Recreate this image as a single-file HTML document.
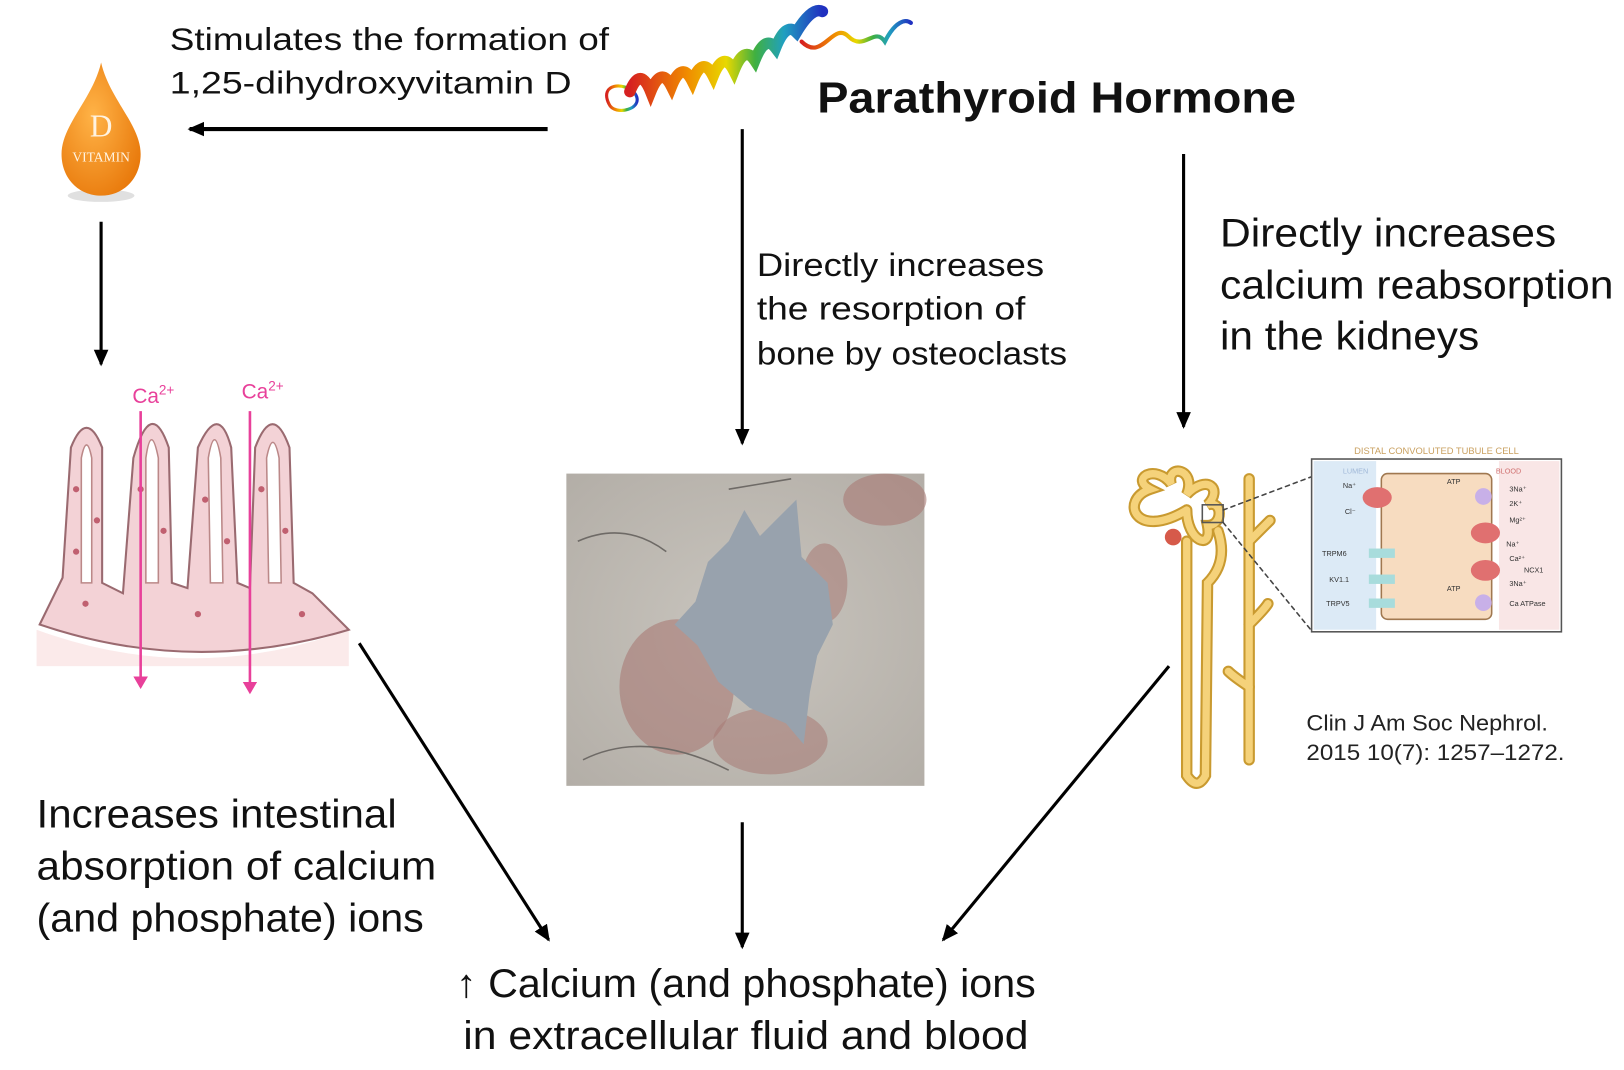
<!DOCTYPE html>
<html><head><meta charset="utf-8"><style>
html,body{margin:0;padding:0;background:#fff;}
svg{display:block;font-family:"Liberation Sans",sans-serif;}
</style></head><body>
<svg width="1624" height="1070" viewBox="0 0 1560 1028" xmlns="http://www.w3.org/2000/svg">
<defs>
<marker id="ahp" markerWidth="12" markerHeight="14" refX="10" refY="7" orient="auto" markerUnits="userSpaceOnUse"><path d="M0,0 L12,7 L0,14 z" fill="#e8409a"/></marker>
<marker id="ahb" markerWidth="18" markerHeight="18" refX="14" refY="9" orient="auto" markerUnits="userSpaceOnUse"><path d="M0,2 L16,9 L0,16 z" fill="#000"/></marker>
<radialGradient id="drop" cx="0.4" cy="0.4" r="0.7"><stop offset="0" stop-color="#ffb347"/><stop offset="1" stop-color="#e8780a"/></radialGradient>
<linearGradient id="rib" x1="0" x2="1"><stop offset="0" stop-color="#d62020"/><stop offset="0.3" stop-color="#f08c00"/><stop offset="0.5" stop-color="#e8d800"/><stop offset="0.65" stop-color="#40b040"/><stop offset="0.8" stop-color="#20a0c0"/><stop offset="1" stop-color="#2030c0"/></linearGradient>
<radialGradient id="bone" cx="0.5" cy="0.5" r="0.7"><stop offset="0" stop-color="#c9c5be"/><stop offset="1" stop-color="#b3aea7"/></radialGradient>
</defs>

<g font-size="30" fill="#111">
<text x="163" y="48" textLength="422" lengthAdjust="spacingAndGlyphs">Stimulates the formation of</text>
<text x="163" y="90" textLength="386" lengthAdjust="spacingAndGlyphs">1,25-dihydroxyvitamin D</text>
</g>

<g fill="none" stroke="url(#rib)" stroke-linecap="round">
<path d="M585,100 C575,80 600,78 610,90 C620,105 590,112 585,100" stroke-width="3"/>
<path d="M605,88 q10,-25 20,0 q10,-25 20,-5 q10,-25 20,-5 q10,-25 20,-5 q10,-25 20,-5 q10,-25 20,-10 q10,-25 20,-12 q10,-25 20,-15 q15,-25 25,-20" stroke-width="11"/>
<path d="M770,40 C790,60 800,20 815,35 C830,50 840,25 850,40 C860,20 870,18 875,22" stroke-width="4"/>
</g>
<text x="785" y="108" font-size="42" font-weight="bold" fill="#111" textLength="460" lengthAdjust="spacingAndGlyphs">Parathyroid Hormone</text>

<g>
<ellipse cx="97" cy="188" rx="32" ry="6" fill="#ccc" opacity="0.6"/>
<path d="M97,60 C105,95 135,120 135,148 C135,172 118,188 97,188 C76,188 59,172 59,148 C59,120 89,95 97,60 z" fill="url(#drop)"/>
<text x="97" y="131" font-family="Liberation Serif,serif" font-size="30" fill="#fff3e0" text-anchor="middle">D</text>
<text x="97" y="155" font-family="Liberation Serif,serif" font-size="13" fill="#fff3e0" text-anchor="middle">VITAMIN</text>
</g>

<g stroke="#000" stroke-width="4">
<line x1="526" y1="124" x2="182" y2="124" marker-end="url(#ahb)"/>
<line x1="97" y1="213" x2="97" y2="350" stroke-width="3" marker-end="url(#ahb)"/>
<line x1="713" y1="124" x2="713" y2="426" stroke-width="3" marker-end="url(#ahb)"/>
<line x1="1137" y1="148" x2="1137" y2="410" stroke-width="3" marker-end="url(#ahb)"/>
<line x1="345" y1="618" x2="527" y2="903" stroke-width="3" marker-end="url(#ahb)"/>
<line x1="713" y1="790" x2="713" y2="910" stroke-width="3" marker-end="url(#ahb)"/>
<line x1="1123" y1="640" x2="906" y2="903" stroke-width="3" marker-end="url(#ahb)"/>
</g>

<g>
<path d="M35,605 Q185,660 335,605 L335,640 L35,640 z" fill="#fbeaea"/>
<g fill="#f3d2d6" stroke="#9a6a70" stroke-width="2">
<path d="M38,600 L60,555 L68,430 Q83,392 98,430 L98,560 L118,570 L128,440 Q145,380 162,430 L165,560 L180,565 L190,430 Q210,385 222,430 L228,560 L240,565 L245,430 Q262,385 278,430 L282,560 L300,570 L335,605 Q185,650 38,600 z"/>
</g>
<g fill="#fff" stroke="#b88" stroke-width="1.5">
<path d="M78,440 Q83,415 88,440 L88,560 L78,560 z"/>
<path d="M140,440 Q145,405 152,440 L152,560 L140,560 z"/>
<path d="M200,440 Q206,405 212,440 L214,560 L202,560 z"/>
<path d="M256,440 Q262,410 268,440 L270,560 L258,560 z"/>
</g>
<g fill="#c06070">
<circle cx="73" cy="470" r="3"/><circle cx="93" cy="500" r="3"/><circle cx="73" cy="530" r="3"/><circle cx="135" cy="470" r="3"/><circle cx="157" cy="510" r="3"/><circle cx="197" cy="480" r="3"/><circle cx="218" cy="520" r="3"/><circle cx="251" cy="470" r="3"/><circle cx="274" cy="510" r="3"/><circle cx="82" cy="580" r="3"/><circle cx="190" cy="590" r="3"/><circle cx="290" cy="590" r="3"/>
</g>
<text x="127" y="387" font-size="20" fill="#e8409a">Ca<tspan font-size="13" dy="-8">2+</tspan></text>
<text x="232" y="383" font-size="20" fill="#e8409a">Ca<tspan font-size="13" dy="-8">2+</tspan></text>
<line x1="135" y1="395" x2="135" y2="660" stroke="#e8409a" stroke-width="2.5" marker-end="url(#ahp)"/>
<line x1="240" y1="395" x2="240" y2="665" stroke="#e8409a" stroke-width="2.5" marker-end="url(#ahp)"/>
</g>

<g font-size="31" fill="#111">
<text x="727" y="265" textLength="276" lengthAdjust="spacingAndGlyphs">Directly increases</text>
<text x="727" y="307" textLength="258" lengthAdjust="spacingAndGlyphs">the resorption of</text>
<text x="727" y="350" textLength="298" lengthAdjust="spacingAndGlyphs">bone by osteoclasts</text>
</g>

<g>
<rect x="544" y="455" width="344" height="300" fill="url(#bone)"/>
<ellipse cx="850" cy="480" rx="40" ry="25" fill="#a87a74" opacity="0.6"/>
<ellipse cx="650" cy="660" rx="55" ry="65" fill="#a87a74" opacity="0.6"/>
<ellipse cx="740" cy="712" rx="55" ry="32" fill="#a87a74" opacity="0.55"/>
<ellipse cx="792" cy="560" rx="22" ry="38" fill="#a87a74" opacity="0.55"/>
<path d="M680,540 L700,520 L715,490 L730,515 L745,500 L765,480 L770,535 L795,560 L800,600 L785,630 L778,665 L772,715 L755,695 L720,680 L690,655 L670,620 L648,600 L668,578 z" fill="#98a2ad"/>
<path d="M555,520 Q600,500 640,530 M700,470 L760,460 M560,730 Q620,700 700,740" stroke="#6e6a66" stroke-width="1.5" fill="none"/>
</g>

<g font-size="38" fill="#111">
<text x="1172" y="237" textLength="323" lengthAdjust="spacingAndGlyphs">Directly increases</text>
<text x="1172" y="287" textLength="378" lengthAdjust="spacingAndGlyphs">calcium reabsorption</text>
<text x="1172" y="336" textLength="249" lengthAdjust="spacingAndGlyphs">in the kidneys</text>
</g>

<g fill="none" stroke-linecap="round">
<g stroke="#c99a30" stroke-width="11">
<path d="M1140,490 C1090,520 1075,480 1105,470 C1085,460 1110,445 1125,465 C1120,445 1150,450 1140,475 C1160,455 1175,470 1160,485 C1175,480 1175,505 1160,505 C1165,530 1140,520 1140,490"/>
<path d="M1140,520 L1140,745 Q1150,760 1158,745 L1160,560 Q1180,540 1170,510"/>
<path d="M1200,460 L1200,730"/>
<path d="M1200,520 Q1215,505 1220,500 M1200,600 Q1215,585 1218,580 M1200,660 Q1185,650 1180,645"/>
</g>
<g stroke="#f5d27a" stroke-width="7">
<path d="M1140,490 C1090,520 1075,480 1105,470 C1085,460 1110,445 1125,465 C1120,445 1150,450 1140,475 C1160,455 1175,470 1160,485 C1175,480 1175,505 1160,505 C1165,530 1140,520 1140,490"/>
<path d="M1140,520 L1140,745 Q1150,760 1158,745 L1160,560 Q1180,540 1170,510"/>
<path d="M1200,460 L1200,730"/>
<path d="M1200,520 Q1215,505 1220,500 M1200,600 Q1215,585 1218,580 M1200,660 Q1185,650 1180,645"/>
</g>
<circle cx="1127" cy="516" r="8" fill="#d65a4a"/>
<rect x="1155" y="485" width="20" height="17" stroke="#555" stroke-width="1.5"/>
<path d="M1175,490 L1260,458 M1175,502 L1260,606" stroke="#444" stroke-width="1.5" stroke-dasharray="4,4"/>
</g>

<g>
<text x="1380" y="436" font-size="9" fill="#c9a060" text-anchor="middle">DISTAL CONVOLUTED TUBULE CELL</text>
<rect x="1260" y="441" width="240" height="166" fill="#fff" stroke="#555" stroke-width="1.5"/>
<rect x="1262" y="443" width="60" height="162" fill="#dceaf6"/>
<rect x="1440" y="443" width="58" height="162" fill="#f9e6e6"/>
<rect x="1327" y="455" width="106" height="140" rx="6" fill="#f7dcc0" stroke="#a07850" stroke-width="1.5"/>
<ellipse cx="1323" cy="478" rx="14" ry="10" fill="#e07070"/>
<ellipse cx="1427" cy="512" rx="14" ry="10" fill="#e07070"/>
<ellipse cx="1427" cy="548" rx="14" ry="10" fill="#e07070"/>
<circle cx="1425" cy="477" r="8" fill="#c8b0e8"/>
<circle cx="1425" cy="579" r="8" fill="#c8b0e8"/>
<rect x="1315" y="527" width="25" height="9" fill="#a8dcdc"/>
<rect x="1315" y="552" width="25" height="9" fill="#a8dcdc"/>
<rect x="1315" y="575" width="25" height="9" fill="#a8dcdc"/>
<g font-size="7" fill="#333">
<text x="1290" y="455" fill="#a0b8d8">LUMEN</text><text x="1437" y="455" fill="#d07070">BLOOD</text>
<text x="1290" y="469">Na⁺</text><text x="1292" y="494">Cl⁻</text>
<text x="1270" y="534">TRPM6</text><text x="1277" y="559">KV1.1</text><text x="1274" y="582">TRPV5</text>
<text x="1450" y="472">3Na⁺</text><text x="1450" y="486">2K⁺</text><text x="1450" y="502">Mg²⁺</text>
<text x="1447" y="525">Na⁺</text><text x="1450" y="539">Ca²⁺</text><text x="1464" y="550">NCX1</text>
<text x="1450" y="563">3Na⁺</text><text x="1450" y="582">Ca ATPase</text>
<text x="1390" y="465">ATP</text><text x="1390" y="568">ATP</text>
</g>
</g>

<g font-size="21" fill="#222">
<text x="1255" y="702" textLength="232" lengthAdjust="spacingAndGlyphs">Clin J Am Soc Nephrol.</text>
<text x="1255" y="730" textLength="248" lengthAdjust="spacingAndGlyphs">2015 10(7): 1257–1272.</text>
</g>

<g font-size="38" fill="#111">
<text x="35" y="795" textLength="346" lengthAdjust="spacingAndGlyphs">Increases intestinal</text>
<text x="35" y="845" textLength="384" lengthAdjust="spacingAndGlyphs">absorption of calcium</text>
<text x="35" y="895" textLength="372" lengthAdjust="spacingAndGlyphs">(and phosphate) ions</text>
</g>

<g font-size="38" fill="#111">
<text x="438" y="958" textLength="557" lengthAdjust="spacingAndGlyphs">↑ Calcium (and phosphate) ions</text>
<text x="445" y="1008" textLength="543" lengthAdjust="spacingAndGlyphs">in extracellular fluid and blood</text>
</g>
</svg>
</body></html>
